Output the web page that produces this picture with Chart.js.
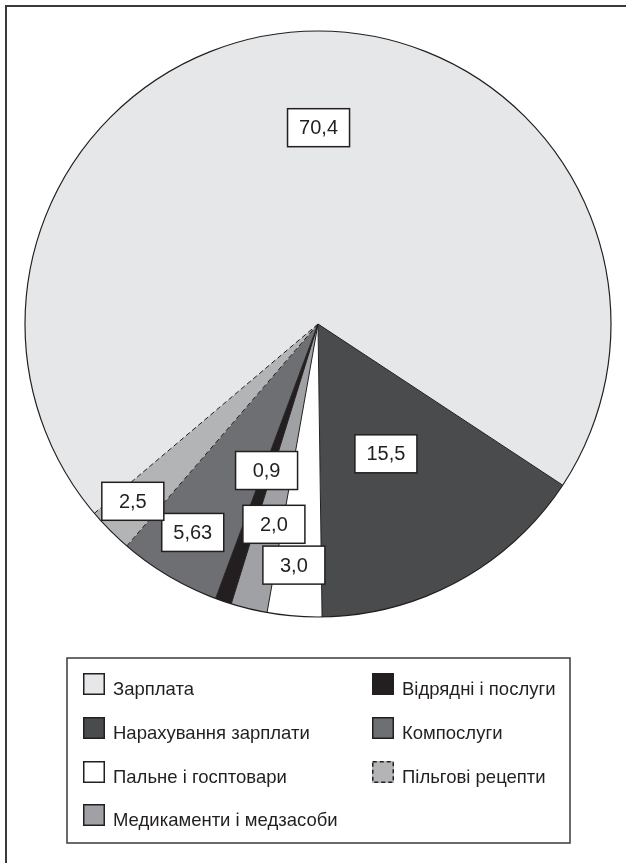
<!DOCTYPE html>
<html>
<head>
<meta charset="utf-8">
<script src="https://cdn.jsdelivr.net/npm/chart.js@4.4.1/dist/chart.umd.min.js"></script>
<style>
  html, body { margin: 0; padding: 0; background: #ffffff; overflow: hidden; }
  #wrap { position: relative; width: 626px; height: 863px; }
  #frame { position: absolute; left: 5px; top: 5px; width: 660px; height: 900px; border: 2px solid #3a3a3a; box-sizing: border-box; }
  #c { position: absolute; left: 0; top: 0; }
</style>
</head>
<body>
<div id="wrap">
  <div id="frame"></div>
  <canvas id="c" width="626" height="863"></canvas>
</div>
<script>
// ---- data ----
const categories = ['Зарплата', 'Нарахування зарплати', 'Пальне і госптовари', 'Медикаменти і медзасоби', 'Відрядні і послуги', 'Компослуги', 'Пільгові рецепти'];
const values = [70.4, 15.5, 3.0, 2.0, 0.9, 5.63, 2.5];
const decimals = [1, 1, 1, 1, 1, 2, 1];
const sliceColors = ['#e6e7e8', '#4a4b4d', '#ffffff', '#a0a1a4', '#231f20', '#6e6f72', '#b3b4b6'];
const dashedSlice = 6;

// label placement (radius fraction, angular shift in degrees) – layout only
const labelRadius = [0.67, 0.50, 0.827, 0.70, 0.53, 0.83, 0.875];
const labelShift = [3.6, 1.1, 1.1, -1.2, 0.5, 0.4, 1.0];

const INK = '#231f20';
const FONT = '"Liberation Sans", Arial, sans-serif';

function fmt(v, d) { return v.toFixed(d).replace('.', ','); }

const edgesAndLabels = {
  id: 'edgesAndLabels',
  afterDatasetsDraw(chart) {
    const ctx = chart.ctx;
    const meta = chart.getDatasetMeta(0);
    const els = meta.data;
    const n = els.length;
    ctx.save();
    ctx.strokeStyle = INK;
    ctx.lineWidth = 1;
    // radial edges
    els.forEach((el, i) => {
      const p = el.getProps(['x', 'y', 'startAngle', 'outerRadius'], true);
      const dashed = (i === dashedSlice) || (i === (dashedSlice + 1) % n);
      ctx.setLineDash(dashed ? [5, 3] : []);
      ctx.beginPath();
      ctx.moveTo(p.x, p.y);
      ctx.lineTo(p.x + Math.cos(p.startAngle) * p.outerRadius, p.y + Math.sin(p.startAngle) * p.outerRadius);
      ctx.stroke();
    });
    // outer circle
    ctx.setLineDash([]);
    ctx.lineWidth = 1.2;
    const p0 = els[0].getProps(['x', 'y', 'outerRadius'], true);
    ctx.beginPath();
    ctx.arc(p0.x, p0.y, p0.outerRadius, 0, Math.PI * 2);
    ctx.stroke();

    // value labels
    const bw = 62, bh = 38;
    ctx.font = '20px ' + FONT;
    ctx.textAlign = 'center';
    ctx.textBaseline = 'middle';
    els.forEach((el, i) => {
      const p = el.getProps(['x', 'y', 'startAngle', 'endAngle', 'outerRadius'], true);
      const a = (p.startAngle + p.endAngle) / 2 + labelShift[i] * Math.PI / 180;
      const r = p.outerRadius * labelRadius[i];
      const cx = p.x + Math.cos(a) * r;
      const cy = p.y + Math.sin(a) * r;
      ctx.fillStyle = '#ffffff';
      ctx.fillRect(cx - bw / 2, cy - bh / 2, bw, bh);
      ctx.lineWidth = 1.5;
      ctx.strokeStyle = INK;
      ctx.strokeRect(cx - bw / 2, cy - bh / 2, bw, bh);
      ctx.fillStyle = INK;
      ctx.fillText(fmt(values[i], decimals[i]), cx, cy + 1);
    });
    ctx.restore();
  },
  afterDraw(chart) {
    // legend box (two columns, column-major)
    const ctx = chart.ctx;
    const box = { x: 67, y: 658, w: 503, h: 185 };
    ctx.save();
    ctx.lineWidth = 1.5;
    ctx.strokeStyle = '#3a3a3a';
    ctx.strokeRect(box.x, box.y, box.w, box.h);
    const colX = [83, 372];
    const rowY = [673, 717, 761, 804];
    const sw = 22;
    ctx.font = '18.5px ' + FONT;
    ctx.textAlign = 'left';
    ctx.textBaseline = 'alphabetic';
    chart.data.labels.forEach((lab, i) => {
      const col = Math.floor(i / 4), row = i % 4;
      const x = colX[col], y = rowY[row];
      ctx.fillStyle = chart.data.datasets[0].backgroundColor[i];
      ctx.fillRect(x, y, sw, sw);
      ctx.strokeStyle = INK;
      ctx.lineWidth = 1.5;
      ctx.setLineDash(i === dashedSlice ? [4, 3] : []);
      ctx.strokeRect(x + 0.75, y + 0.75, sw - 1.5, sw - 1.5);
      ctx.setLineDash([]);
      ctx.fillStyle = INK;
      ctx.fillText(lab, x + 30, y + sw);
    });
    ctx.restore();
  }
};

new Chart(document.getElementById('c'), {
  type: 'pie',
  data: {
    labels: categories,
    datasets: [{
      data: values,
      backgroundColor: sliceColors,
      borderWidth: 0
    }]
  },
  options: {
    responsive: false,
    animation: false,
    events: [],
    rotation: 229.75,
    layout: { padding: { left: 25, top: 31, right: 15, bottom: 246 } },
    plugins: {
      legend: { display: false },
      tooltip: { enabled: false }
    }
  },
  plugins: [edgesAndLabels]
});
</script>
</body>
</html>
